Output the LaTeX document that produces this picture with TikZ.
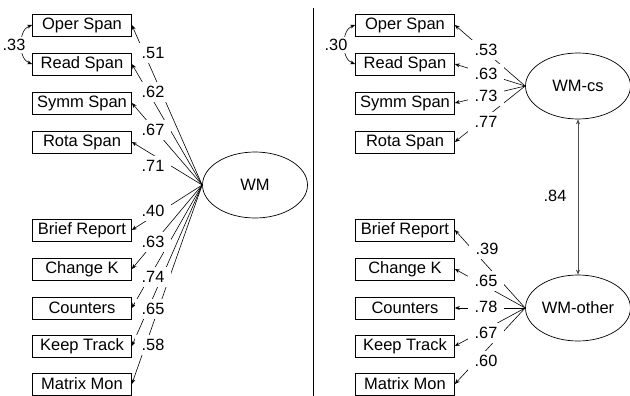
\documentclass[tikz,border=0pt]{standalone}
\usepackage{fontspec}
\setmainfont{Liberation Sans}
\usetikzlibrary{arrows.meta,shapes.geometric}
\begin{document}
\begin{tikzpicture}[x=1pt,y=-1pt,
 obs/.style={draw, rectangle, minimum width=99pt, minimum height=22pt, inner sep=0pt, line width=0.7pt, font=\fontsize{16.5}{17}\selectfont},
 lat/.style={draw, ellipse, minimum width=105pt, minimum height=66pt, inner sep=0pt, line width=0.7pt, font=\fontsize{16.5}{17}\selectfont},
 lbl/.style={fill=white, inner xsep=7pt, inner ysep=4pt, font=\fontsize{16.3}{16}\selectfont},
 ld/.style={-{Stealth[length=5pt,width=4pt]}, line width=0.6pt},
 cov/.style={{Stealth[length=5pt,width=4pt]}-{Stealth[length=5pt,width=4pt]}, line width=0.6pt},
]
\useasboundingbox (0,0) rectangle (630,396);
% divider
\draw[line width=0.7pt] (313,8) coordinate (d1) -- (313,396) coordinate (d2);
% left panel
\node[obs] (lo) at (82,25) {Oper Span};
\node[obs] (lr) at (82,64) {Read Span};
\node[obs] (ls) at (82,103) {Symm Span};
\node[obs] (lt) at (82,142) {Rota Span};
\node[obs] (lb) at (82,230) {Brief Report};
\node[obs] (lc) at (82,269) {Change K};
\node[obs] (ln) at (82,308) {Counters};
\node[obs] (lk) at (82,346) {Keep Track};
\node[obs] (lm) at (82,384) {Matrix Mon};
\node[lat] (wm) at (255,185) {WM};
\foreach \b in {lo,lr,ls,lt,lb,lc,ln,lk,lm}{\draw[ld] (wm.west) -- (\b.east);}
\draw[cov] (lo.west) .. controls (18,30) and (18,59) .. (lr.west);
\node[lbl, inner xsep=2pt, inner ysep=2pt] (c33) at (14,45) {.33};
\node[lbl] (l1) at (153,53) {.51};
\node[lbl] (l2) at (153,92) {.62};
\node[lbl] (l3) at (153,130) {.67};
\node[lbl] (l4) at (153,166) {.71};
\node[lbl] (l5) at (153,211) {.40};
\node[lbl] (l6) at (153,242) {.63};
\node[lbl] (l7) at (153,277) {.74};
\node[lbl] (l8) at (153,309) {.65};
\node[lbl] (l9) at (153,345) {.58};
% right panel
\node[obs] (ro) at (405,25) {Oper Span};
\node[obs] (rr) at (405,64) {Read Span};
\node[obs] (rs) at (405,103) {Symm Span};
\node[obs] (rt) at (405,142) {Rota Span};
\node[obs] (rb) at (405,230) {Brief Report};
\node[obs] (rc) at (405,269) {Change K};
\node[obs] (rn) at (405,308) {Counters};
\node[obs] (rk) at (405,346) {Keep Track};
\node[obs] (rm) at (405,384) {Matrix Mon};
\node[lat] (cs) at (578,86) {WM-cs};
\node[lat] (ot) at (578,308) {WM-other};
\foreach \b in {ro,rr,rs,rt}{\draw[ld] (cs.west) -- (\b.east);}
\foreach \b in {rb,rc,rn,rk,rm}{\draw[ld] (ot.west) -- (\b.east);}
\draw[cov] (ro.west) .. controls (341,30) and (341,59) .. (rr.west);
\node[lbl, inner xsep=2pt, inner ysep=2pt] (c30) at (336,45) {.30};
\draw[cov, draw=black!70] (cs.south) -- (ot.north);
\node[lbl, inner xsep=2pt, inner ysep=2pt] (r84) at (555,196) {.84};
\node[lbl] (r1) at (486,50) {.53};
\node[lbl] (r2) at (486,74) {.63};
\node[lbl] (r3) at (486,96) {.73};
\node[lbl] (r4) at (486,122) {.77};
\node[lbl] (r5) at (487,249) {.39};
\node[lbl] (r6) at (486,281) {.65};
\node[lbl] (r7) at (486,307) {.78};
\node[lbl] (r8) at (486,333) {.67};
\node[lbl] (r9) at (486,361) {.60};
\end{tikzpicture}
\end{document}
